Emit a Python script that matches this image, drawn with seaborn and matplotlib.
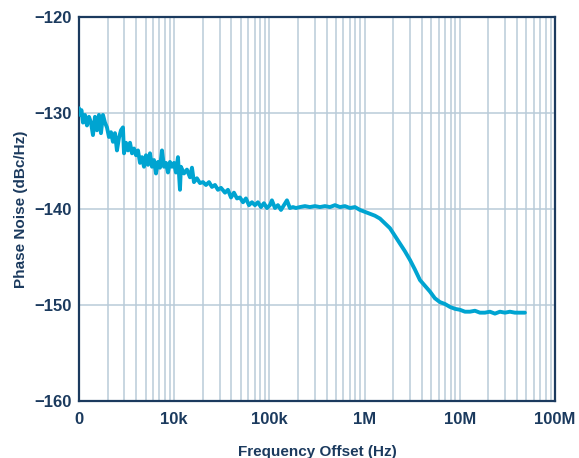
import numpy as np
import pandas as pd
import seaborn as sns
import matplotlib.pyplot as plt
from matplotlib.ticker import FixedLocator, FixedFormatter, LogLocator, NullFormatter

# valores (frecuencia en log10 Hz, ruido en dBc/Hz)
log_freq = [3.000, 3.011, 3.026, 3.042, 3.063, 3.084, 3.105, 3.126, 3.147, 3.168,
            3.189, 3.210, 3.231, 3.252, 3.273, 3.294, 3.315, 3.336, 3.357, 3.378,
            3.399, 3.420, 3.441, 3.462, 3.473, 3.494, 3.515, 3.536, 3.557, 3.578,
            3.599, 3.620, 3.641, 3.662, 3.683, 3.704, 3.725, 3.746, 3.767, 3.788,
            3.809, 3.830, 3.851, 3.872, 3.893, 3.914, 3.935, 3.956, 3.977, 3.998,
            4.019, 4.040, 4.061, 4.071, 4.103, 4.134, 4.166, 4.187, 4.208, 4.239,
            4.271, 4.303, 4.334, 4.366, 4.397, 4.429, 4.460, 4.492, 4.534, 4.565,
            4.597, 4.628, 4.660, 4.691, 4.723, 4.754, 4.786, 4.817, 4.849, 4.880,
            4.912, 4.943, 4.975, 5.006, 5.027, 5.059, 5.090, 5.122, 5.153, 5.185,
            5.216, 5.248, 5.279, 5.321, 5.374, 5.426, 5.479, 5.532, 5.584, 5.637,
            5.689, 5.742, 5.794, 5.847, 5.899, 5.952, 6.004, 6.057, 6.109, 6.162,
            6.214, 6.267, 6.319, 6.372, 6.424, 6.477, 6.529, 6.582, 6.634, 6.687,
            6.739, 6.792, 6.845, 6.897, 6.950, 7.002, 7.055, 7.107, 7.160, 7.212,
            7.265, 7.317, 7.370, 7.422, 7.475, 7.527, 7.580, 7.632, 7.685]
phase_noise = [-129.5, -130.2, -129.7, -131.0, -130.2, -131.3, -130.4, -131.0, -132.3, -130.4,
               -131.8, -130.2, -132.1, -130.2, -131.0, -131.5, -132.5, -132.0, -133.0, -132.1,
               -133.9, -132.6, -131.8, -131.5, -134.2, -133.1, -133.9, -133.1, -134.2, -133.7,
               -134.4, -133.9, -135.2, -134.6, -135.6, -134.4, -135.4, -134.2, -135.6, -134.9,
               -136.3, -135.1, -135.7, -133.9, -135.6, -135.2, -136.2, -135.1, -135.6, -135.2,
               -136.2, -134.6, -138.0, -135.6, -136.3, -135.9, -136.7, -135.7, -137.2, -136.8,
               -137.3, -137.2, -137.5, -137.2, -137.7, -137.5, -138.0, -137.8, -138.3, -138.0,
               -138.8, -138.3, -138.9, -138.8, -139.3, -138.9, -139.6, -139.3, -139.6, -139.3,
               -139.8, -139.4, -139.9, -139.6, -139.1, -139.9, -139.6, -140.1, -139.6, -139.1,
               -139.9, -139.8, -139.9, -139.8, -139.7, -139.8, -139.7, -139.8, -139.7, -139.8,
               -139.6, -139.8, -139.7, -139.9, -139.8, -140.1, -140.3, -140.5, -140.7, -141.0,
               -141.5, -142.0, -142.8, -143.6, -144.4, -145.3, -146.3, -147.4, -148.0, -148.6,
               -149.3, -149.7, -149.9, -150.2, -150.4, -150.5, -150.7, -150.7, -150.6, -150.8,
               -150.8, -150.7, -150.9, -150.7, -150.8, -150.7, -150.8, -150.8, -150.8]

x_ticks = [1e3, 1e4, 1e5, 1e6, 1e7, 1e8]
x_tick_labels = ["0", "10k", "100k", "1M", "10M", "100M"]
y_ticks = [-160, -150, -140, -130, -120]
y_tick_labels = ["\u2212160", "\u2212150", "\u2212140", "\u2212130", "\u2212120"]

df = pd.DataFrame({"freq": np.power(10.0, log_freq), "pn": phase_noise})

sns.set_style("white")
plt.rcParams['font.family'] = ['Liberation Sans', 'DejaVu Sans']

navy = "#1b3a5e"
grid_c = "#b9cbd8"
line_c = "#00a4d1"

fig = plt.figure(figsize=(5.79, 4.58), dpi=100)
ax = fig.add_axes([0.1364, 0.1245, 0.822, 0.8384])

sns.lineplot(data=df, x="freq", y="pn", color=line_c, linewidth=2.8, ax=ax, zorder=3)

ax.set_xscale("log")
ax.set_xlim(1e3, 1e8)
ax.set_ylim(-160, -120)

ax.xaxis.set_major_locator(FixedLocator(x_ticks))
ax.xaxis.set_major_formatter(FixedFormatter(x_tick_labels))
ax.xaxis.set_minor_locator(LogLocator(base=10, subs=np.arange(2, 10)))
ax.xaxis.set_minor_formatter(NullFormatter())
ax.yaxis.set_major_locator(FixedLocator(y_ticks))
ax.yaxis.set_major_formatter(FixedFormatter(y_tick_labels))

ax.grid(True, which="both", axis="x", color=grid_c, linewidth=1.1, zorder=0)
ax.grid(True, which="major", axis="y", color=grid_c, linewidth=1.1, zorder=0)
ax.set_axisbelow(True)

ax.tick_params(axis="y", which="both", length=0, pad=5, labelsize=12, labelcolor=navy)
ax.tick_params(axis="x", which="both", length=0, pad=8, labelsize=12, labelcolor=navy)
for lbl in ax.get_xticklabels() + ax.get_yticklabels():
    lbl.set_fontweight("bold")

for s in ax.spines.values():
    s.set_visible(True)
    s.set_color(navy)
    s.set_linewidth(1.6)

ax.set_xlabel("Frequency Offset (Hz)", fontsize=11, fontweight="bold", color=navy, labelpad=13)
ax.set_ylabel("Phase Noise (dBc/Hz)", fontsize=11, fontweight="bold", color=navy, labelpad=5)

plt.savefig("out.png", dpi=100)
